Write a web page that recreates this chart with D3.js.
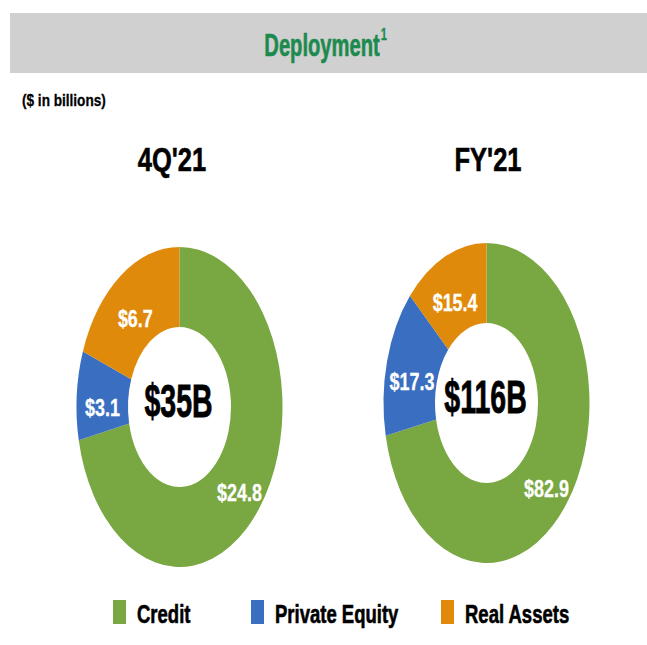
<!DOCTYPE html>
<html>
<head>
<meta charset="utf-8">
<script src="https://cdn.jsdelivr.net/npm/d3@7"></script>
<style>
  html, body { margin: 0; padding: 0; background: #fff; }
  svg { display: block; font-family: "Liberation Sans", Arial, sans-serif; }
</style>
</head>
<body>
<svg id="chart" width="647" height="645"></svg>
<script>
// ---- data ----
const categories = ["Credit", "Private Equity", "Real Assets"];
const colors = ["#79A741", "#3A6EC1", "#E08A0B"];
const panelTitles = ["4Q'21", "FY'21"];
const values4Q = [24.8, 3.1, 6.7];
const valuesFY = [82.9, 17.3, 15.4];
const totalLabels = ["$35B", "$116B"];
const chartTitle = "Deployment";
const titleNote = "1";
const unitsLabel = "($ in billions)";

const series = [values4Q, valuesFY];

const svg = d3.select("#chart");

// helper: condensed text via horizontal scaling
function ctext(g, x, y, str, opts) {
  const t = g.append("text")
    .attr("transform", `translate(${x},${y}) scale(${opts.sx},1)`)
    .attr("text-anchor", opts.anchor || "middle")
    .attr("font-size", opts.size)
    .attr("font-weight", opts.weight || "bold")
    .attr("fill", opts.fill || "#000")
    .attr("stroke", opts.fill || "#000")
    .attr("stroke-width", opts.sw == null ? 0.6 : opts.sw)
    .text(str);
  return t;
}

// ---- header ----
svg.append("rect").attr("x", 10).attr("y", 13).attr("width", 637).attr("height", 60)
  .attr("fill", "#D0D0D0");
const tt = ctext(svg, 322, 56, chartTitle, {sx: 0.63, size: 32, fill: "#1C8A4E"});
const tw = tt.node().getComputedTextLength() * 0.63;
ctext(svg, 322 + tw / 2 + 1, 40, titleNote, {sx: 0.7, size: 16, fill: "#1C8A4E", anchor: "start", sw: 0.3});

ctext(svg, 22, 106, unitsLabel, {sx: 0.8, size: 17, anchor: "start", sw: 0.3});

// ---- donuts ----
const R = 160;          // vertical radius
const k = 103 / 160;    // horizontal squeeze
const centers = [[179.5, 407], [486.5, 403]];
const pie = d3.pie().sort(null).startAngle(0).endAngle(2 * Math.PI);
const arc = d3.arc().innerRadius(R * 0.5).outerRadius(R);
const color = d3.scaleOrdinal().domain(categories).range(colors);

series.forEach((vals, i) => {
  const [cx, cy] = centers[i];
  const data = categories.map((c, j) => ({cat: c, value: vals[j]}));
  const arcs = pie.value(d => d.value)(data);

  ctext(svg, [172, 488][i], 171, panelTitles[i], {sx: 0.75, size: 34});

  const g = svg.append("g").attr("transform", `translate(${cx},${cy}) scale(${k},1)`);
  g.selectAll("path").data(arcs).join("path")
    .attr("d", arc)
    .attr("fill", d => color(d.data.cat));

  arcs.forEach(a => {
    const c = arc.centroid(a);
    ctext(svg, cx + c[0] * k, cy + c[1] + 18, "$" + a.data.value.toFixed(1),
      {sx: 0.78, size: 23, fill: "#fff", sw: 0.3});
  });

  ctext(svg, cx - 1, cy + 10, totalLabels[i], {sx: 0.62, size: 46, sw: 0.8});
});

// ---- legend ----
const legendX = d3.scaleOrdinal().domain(categories).range([113, 251, 441]);
const lg = svg.append("g");
categories.forEach(c => {
  const x = legendX(c);
  lg.append("rect").attr("x", x).attr("y", 600).attr("width", 13).attr("height", 24)
    .attr("fill", color(c));
  ctext(lg, x + 24, 623, c, {sx: 0.74, size: 25, anchor: "start"});
});
</script>
</body>
</html>
